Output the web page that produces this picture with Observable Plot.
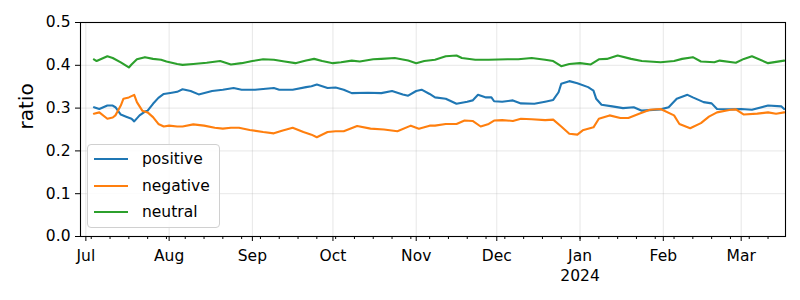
<!DOCTYPE html>
<html>
<head>
<meta charset="utf-8">
<script src="https://cdn.jsdelivr.net/npm/d3@7"></script>
<script src="https://cdn.jsdelivr.net/npm/@observablehq/plot@0.6"></script>
<style>
  html, body { margin: 0; padding: 0; background: white; }
  #wrap { position: relative; width: 800px; height: 300px; font-family: "DejaVu Sans", sans-serif; }
  #legend { position: absolute; left: 87px; top: 144px; width: 131px; height: 82px;
    border: 1px solid #d0d0d0; border-radius: 4px; background: rgba(255,255,255,0.85); }
  .row { position: absolute; left: 0; height: 20px; font-size: 15.5px; color: black; }
  .sw { position: absolute; left: 6px; top: 9px; width: 34px; height: 2px; }
  .lab { position: absolute; left: 54px; top: 0px; line-height: 20px; white-space: nowrap; }
</style>
</head>
<body>
<div id="wrap"></div>
<script>
// ---- data ----
const seriesNames = ["positive", "negative", "neutral"];
const seriesColors = ["#1f77b4", "#ff7f0e", "#2ca02c"];

const positive = [
  ["2023-07-04",0.302],["2023-07-06",0.298],["2023-07-09",0.306],["2023-07-11",0.306],["2023-07-12",0.302],
  ["2023-07-14",0.285],["2023-07-16",0.280],["2023-07-18",0.275],["2023-07-19",0.269],["2023-07-21",0.283],
  ["2023-07-23",0.292],["2023-07-24",0.294],["2023-07-26",0.310],["2023-07-28",0.324],["2023-07-30",0.333],
  ["2023-08-02",0.336],["2023-08-04",0.338],["2023-08-06",0.344],["2023-08-09",0.340],["2023-08-12",0.332],
  ["2023-08-17",0.340],["2023-08-21",0.343],["2023-08-25",0.347],["2023-08-28",0.343],["2023-09-02",0.343],
  ["2023-09-09",0.347],["2023-09-11",0.343],["2023-09-16",0.343],["2023-09-21",0.349],["2023-09-23",0.351],
  ["2023-09-25",0.355],["2023-09-29",0.347],["2023-10-02",0.348],["2023-10-05",0.343],["2023-10-08",0.335],
  ["2023-10-14",0.336],["2023-10-19",0.335],["2023-10-23",0.340],["2023-10-27",0.332],["2023-10-29",0.329],
  ["2023-11-01",0.340],["2023-11-03",0.343],["2023-11-06",0.333],["2023-11-08",0.325],["2023-11-12",0.322],
  ["2023-11-16",0.310],["2023-11-20",0.315],["2023-11-22",0.318],["2023-11-24",0.331],["2023-11-27",0.325],
  ["2023-11-29",0.325],["2023-11-30",0.316],["2023-12-03",0.315],["2023-12-07",0.318],["2023-12-10",0.311],
  ["2023-12-15",0.310],["2023-12-19",0.315],["2023-12-22",0.319],["2023-12-24",0.337],["2023-12-25",0.357],
  ["2023-12-28",0.363],["2023-12-31",0.358],["2024-01-04",0.349],["2024-01-06",0.341],["2024-01-07",0.322],
  ["2024-01-09",0.308],["2024-01-13",0.304],["2024-01-17",0.300],["2024-01-21",0.302],["2024-01-24",0.294],
  ["2024-01-31",0.297],["2024-02-03",0.302],["2024-02-06",0.322],["2024-02-10",0.331],["2024-02-12",0.325],
  ["2024-02-16",0.314],["2024-02-19",0.311],["2024-02-21",0.298],["2024-02-26",0.297],["2024-03-01",0.298],
  ["2024-03-05",0.296],["2024-03-11",0.306],["2024-03-16",0.304],["2024-03-17",0.298]
];

const negative = [
  ["2023-07-04",0.287],["2023-07-06",0.290],["2023-07-09",0.275],["2023-07-11",0.278],["2023-07-12",0.283],
  ["2023-07-14",0.306],["2023-07-15",0.322],["2023-07-17",0.325],["2023-07-19",0.331],["2023-07-20",0.314],
  ["2023-07-22",0.294],["2023-07-24",0.290],["2023-07-26",0.279],["2023-07-28",0.263],["2023-07-30",0.257],
  ["2023-08-01",0.259],["2023-08-04",0.257],["2023-08-06",0.257],["2023-08-10",0.262],["2023-08-14",0.259],
  ["2023-08-18",0.254],["2023-08-21",0.252],["2023-08-24",0.254],["2023-08-27",0.254],["2023-08-31",0.249],
  ["2023-09-05",0.244],["2023-09-09",0.241],["2023-09-12",0.247],["2023-09-16",0.254],["2023-09-20",0.244],
  ["2023-09-23",0.238],["2023-09-25",0.232],["2023-09-29",0.244],["2023-10-02",0.246],["2023-10-05",0.246],
  ["2023-10-10",0.258],["2023-10-15",0.252],["2023-10-20",0.250],["2023-10-25",0.246],["2023-10-30",0.259],
  ["2023-11-02",0.252],["2023-11-06",0.259],["2023-11-08",0.259],["2023-11-12",0.263],["2023-11-16",0.263],
  ["2023-11-19",0.271],["2023-11-22",0.270],["2023-11-25",0.257],["2023-11-28",0.263],["2023-11-30",0.271],
  ["2023-12-03",0.272],["2023-12-07",0.270],["2023-12-10",0.275],["2023-12-14",0.274],["2023-12-19",0.272],
  ["2023-12-22",0.273],["2023-12-25",0.257],["2023-12-28",0.240],["2023-12-31",0.238],["2024-01-02",0.248],
  ["2024-01-06",0.255],["2024-01-08",0.275],["2024-01-12",0.283],["2024-01-16",0.277],["2024-01-19",0.277],
  ["2024-01-23",0.287],["2024-01-27",0.296],["2024-01-31",0.298],["2024-02-05",0.283],["2024-02-07",0.263],
  ["2024-02-11",0.253],["2024-02-15",0.265],["2024-02-18",0.280],["2024-02-21",0.290],["2024-02-26",0.296],
  ["2024-02-28",0.297],["2024-03-02",0.285],["2024-03-07",0.287],["2024-03-11",0.290],["2024-03-14",0.287],
  ["2024-03-17",0.290]
];

const neutral = [
  ["2023-07-04",0.414],["2023-07-05",0.410],["2023-07-09",0.421],["2023-07-11",0.417],["2023-07-14",0.407],
  ["2023-07-17",0.395],["2023-07-18",0.402],["2023-07-20",0.414],["2023-07-23",0.419],["2023-07-26",0.415],
  ["2023-07-29",0.413],["2023-07-31",0.409],["2023-08-04",0.403],["2023-08-06",0.401],["2023-08-10",0.403],
  ["2023-08-15",0.406],["2023-08-20",0.410],["2023-08-24",0.402],["2023-08-28",0.405],["2023-09-01",0.410],
  ["2023-09-05",0.414],["2023-09-09",0.413],["2023-09-13",0.409],["2023-09-17",0.405],["2023-09-21",0.411],
  ["2023-09-24",0.415],["2023-09-27",0.410],["2023-10-01",0.405],["2023-10-04",0.407],["2023-10-08",0.411],
  ["2023-10-11",0.409],["2023-10-16",0.414],["2023-10-19",0.415],["2023-10-24",0.417],["2023-10-29",0.411],
  ["2023-11-01",0.405],["2023-11-04",0.410],["2023-11-08",0.413],["2023-11-12",0.421],["2023-11-16",0.423],
  ["2023-11-18",0.417],["2023-11-23",0.413],["2023-11-28",0.413],["2023-12-05",0.414],["2023-12-09",0.414],
  ["2023-12-14",0.417],["2023-12-19",0.413],["2023-12-22",0.410],["2023-12-25",0.398],["2023-12-28",0.403],
  ["2024-01-01",0.405],["2024-01-05",0.402],["2024-01-08",0.414],["2024-01-11",0.415],["2024-01-15",0.423],
  ["2024-01-20",0.415],["2024-01-24",0.410],["2024-01-31",0.407],["2024-02-05",0.410],["2024-02-08",0.415],
  ["2024-02-12",0.419],["2024-02-15",0.409],["2024-02-20",0.407],["2024-02-22",0.411],["2024-02-28",0.406],
  ["2024-03-02",0.415],["2024-03-05",0.421],["2024-03-11",0.405],["2024-03-17",0.411]
];

const yTicks = [0, 0.1, 0.2, 0.3, 0.4, 0.5];
const monthTicks = ["2023-07-01","2023-08-01","2023-09-01","2023-10-01","2023-11-01","2023-12-01",
                    "2024-01-01","2024-02-01","2024-03-01"];
const monthLabels = ["Jul","Aug","Sep","Oct","Nov","Dec","Jan\n2024","Feb","Mar"];
const xDomain = ["2023-06-29T00:00Z", "2024-03-17T12:00Z"];
const yLabel = "ratio";

// ---- build table ----
const table = [];
[positive, negative, neutral].forEach((arr, i) => {
  arr.forEach(([d, v]) => table.push({date: new Date(d + "T00:00Z"), ratio: v, series: seriesNames[i]}));
});
const majors = monthTicks.map(d => new Date(d + "T00:00Z"));
const dom = xDomain.map(d => new Date(d));
const mondays = d3.utcMonday.range(dom[0], dom[1]);
const labelOf = new Map(majors.map((d, i) => [+d, monthLabels[i]]));

const chart = Plot.plot({
  width: 800,
  height: 300,
  marginLeft: 80,
  marginRight: 15,
  marginTop: 22,
  marginBottom: 64,
  style: {fontFamily: "DejaVu Sans, sans-serif", fontSize: "15.5px", color: "black", background: "white", overflow: "visible"},
  x: {type: "utc", domain: dom},
  y: {domain: [0, 0.5]},
  color: {domain: seriesNames, range: seriesColors},
  marks: [
    Plot.gridY(yTicks, {stroke: "#b0b0b0", strokeOpacity: 0.3, strokeWidth: 1}),
    Plot.gridX(majors, {stroke: "#b0b0b0", strokeOpacity: 0.3, strokeWidth: 1}),
    Plot.axisY({ticks: yTicks, tickFormat: d3.format(".1f"), tickSize: 5, tickPadding: 5, label: null, stroke: "black", strokeOpacity: 1}),
    Plot.axisX({ticks: mondays, tickSize: 3, tickFormat: () => "", label: null, stroke: "black", strokeOpacity: 1}),
    Plot.axisX({ticks: majors, tickSize: 5, tickPadding: 6, tickFormat: d => labelOf.get(+d), lineHeight: 1.25, label: null, stroke: "black", strokeOpacity: 1}),
    Plot.text([yLabel], {frameAnchor: "left", text: d => d, rotate: -90, dx: -54, fontSize: 20, fill: "black", lineAnchor: "middle"}),
    Plot.lineY(table, {x: "date", y: "ratio", z: "series", stroke: "series", strokeWidth: 2.1}),
    Plot.frame({stroke: "black", strokeWidth: 1.1})
  ]
});

const wrap = document.getElementById("wrap");
wrap.appendChild(chart);

// legend inside the plot area (lower left)
const legend = document.createElement("div");
legend.id = "legend";
seriesNames.forEach((name, i) => {
  const row = document.createElement("div");
  row.className = "row";
  row.style.top = (4 + i * 26.5) + "px";
  row.style.width = "130px";
  const sw = document.createElement("div");
  sw.className = "sw";
  sw.style.background = seriesColors[i];
  const lab = document.createElement("div");
  lab.className = "lab";
  lab.textContent = name;
  row.appendChild(sw);
  row.appendChild(lab);
  legend.appendChild(row);
});
wrap.appendChild(legend);
</script>
</body>
</html>
